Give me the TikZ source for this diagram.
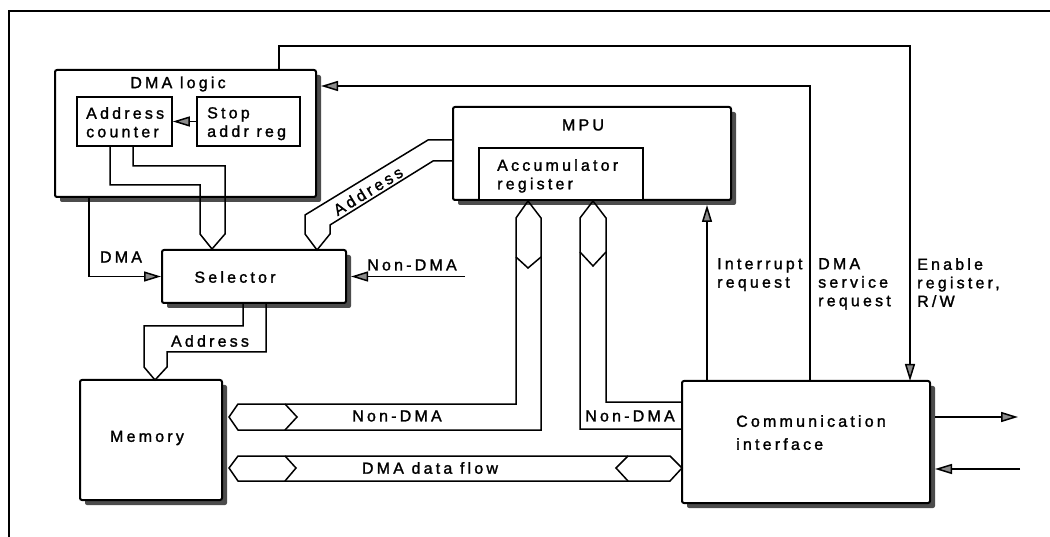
\documentclass[tikz,border=0pt]{standalone}
\usepackage{fontspec}
\setmainfont{Liberation Sans}[LetterSpace=20,FakeBold=1.5]
\usetikzlibrary{arrows.meta,shadows}
\begin{document}
\begin{tikzpicture}[x=1pt,y=-1pt,
  box/.style={draw, line width=2pt, rounded corners=2pt, fill=white, inner sep=0pt,
    drop shadow={shadow xshift=5pt, shadow yshift=-5pt, fill=black!70, opacity=1}},
  plainbox/.style={draw, line width=1.6pt, fill=white, inner sep=0pt},
  wire/.style={line width=1.5pt},
  arr/.style={wire, -{Triangle[length=17pt,width=10pt,fill=black!45]}},
  bus/.style={line width=1.5pt, line join=miter},
  lbl/.style={font=\fontsize{16}{18.5}\selectfont, inner sep=0pt},
  txt/.style={lbl, align=left, anchor=north west}]
\fill[white] (0,0) rectangle (1050,537);
\useasboundingbox (0,0) rectangle (1050,537);
% frame
\draw[line width=1.5pt] (9,537) -- (9,11) -- (1050,11);

% boxes
\node[box, minimum width=261pt, minimum height=127pt] (dma) at (185.5,133.5) {};
\node[lbl] (dmalbl) at (178,84) {DMA logic};
\node[plainbox, minimum width=95pt, minimum height=49pt] (ac) at (124.5,121.5) {};
\node[txt] (actxt) at (86,107) {Address\\counter};
\node[plainbox, minimum width=103pt, minimum height=49pt] (sar) at (248.5,121.5) {};
\node[txt] (sartxt) at (207,107) {Stop\\addr reg};

\node[box, minimum width=184pt, minimum height=53pt] (sel) at (254,276.5) {};
\node[lbl] (sellbl) at (235,277) {Selector};

\node[box, minimum width=278pt, minimum height=93pt] (mpu) at (592,153.5) {};
\node[lbl] (mpulbl) at (583,125) {MPU};
\node[plainbox, minimum width=164pt, minimum height=52pt] (acc) at (561,174) {};
\node[txt] (acctxt) at (497,159) {Accumulator\\register};

\node[box, minimum width=142pt, minimum height=120pt] (mem) at (151,440) {};
\node[lbl] (memlbl) at (147,438) {Memory};

\node[box, minimum width=248pt, minimum height=122pt] (ci) at (806,442) {};
\node[txt, font=\fontsize{16}{23}\selectfont] (citxt) at (736,415) {Communication\\interface};

% simple connectors
\draw[arr] (sar.west) -- (ac.east);
\coordinate (dmaout) at (89,197);
\draw[arr] (dmaout) |- (sel.west);
\node[lbl] (dmal) at (121,257) {DMA};
\coordinate (ndin) at (465,276.5);
\draw[arr] (ndin) -- (351,276.5);
\node[lbl] (ndl) at (412,265) {Non-DMA};

\coordinate (intbot) at (707,381);
\draw[arr] (intbot) -- (707,205);
\node[txt] (intl) at (717,258) {Interrupt\\request};

\coordinate (dsbot) at (810,381);
\draw[arr] (dsbot) -- (810,86) -- (321,86);
\node[txt] (dsl) at (818,258) {DMA\\service\\request};

\coordinate (entop) at (279,70);
\draw[arr] (entop) -- (279,46) -- (910,46) -- (910,381);
\node[txt] (enl) at (917,258) {Enable\\register,\\R/W};

\coordinate (outa) at (935,417);
\draw[arr] (outa) -- (1018,417);
\coordinate (ina) at (1020,469);
\draw[arr] (ina) -- (935,469);

% bus: address counter -> selector
\draw[bus] (110,146) -- (110,185) -- (200,185) -- (200,234) -- (212,249) -- (225,234) -- (225,166) -- (133,166) -- (133,146);

% bus: MPU address -> selector
\draw[bus] (453,140) -- (428,140) -- (305,215) -- (305,234) -- (317,250) -- (330,234) -- (330,225) -- (433,161) -- (453,161);
\node[lbl, rotate=31.5] (addrdiag) at (368,191) {Address};

% bus: selector -> memory
\draw[bus] (243,303) -- (243,326) -- (144,326) -- (144,367) -- (155,380) -- (167,367) -- (167,352) -- (266,352) -- (266,303);
\node[lbl] (addrmem) at (210,341) {Address};

% bus: memory <-> MPU (Non-DMA)
\draw[bus] (516,404) -- (516,218) -- (528,201) -- (541,218) -- (541,430) -- (238,430) -- (229,417) -- (238,404) -- cycle;
\draw[bus] (285,404) -- (297,417) -- (285,430);
\draw[bus] (516,257) -- (528,268) -- (541,257);
\node[lbl] (nd1) at (397,416) {Non-DMA};

% bus: comm <-> MPU (Non-DMA)
\draw[bus] (682,402) -- (606,402) -- (606,218) -- (593,201) -- (580,218) -- (580,429) -- (682,429);
\draw[bus] (580,252) -- (593,266) -- (606,252);
\node[lbl] (nd2) at (630,416) {Non-DMA};

% bus: DMA data flow
\draw[bus] (238,456) -- (670,456) -- (682,468) -- (670,481) -- (238,481) -- (229,468) -- cycle;
\draw[bus] (285,456) -- (296,468) -- (285,481);
\draw[bus] (628,456) -- (616,468) -- (628,481);
\node[lbl] (dfl) at (430,468) {DMA data flow};
\end{tikzpicture}
\end{document}
